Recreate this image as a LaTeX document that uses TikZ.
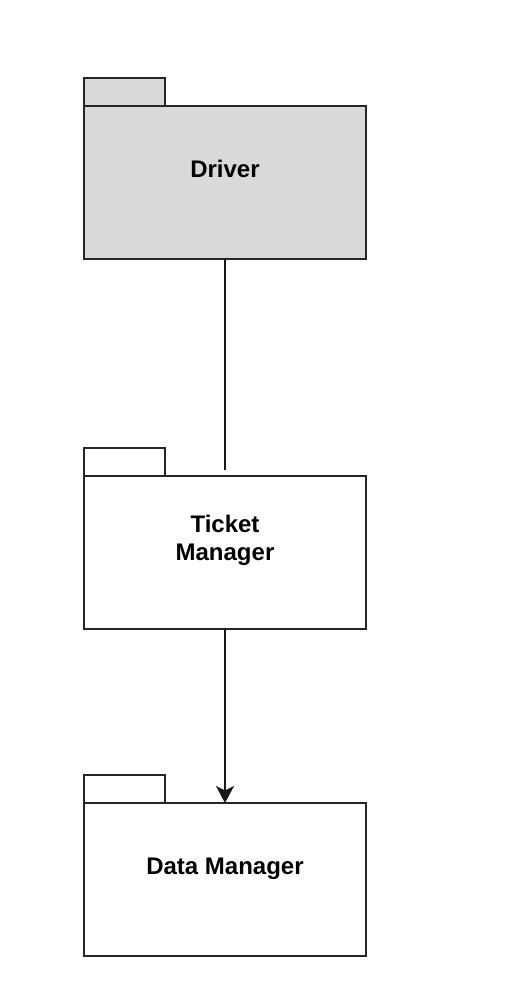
\documentclass[tikz,border=0pt]{standalone}
\usepackage{fontspec}
\setmainfont{Liberation Sans}
\usetikzlibrary{arrows.meta}
\definecolor{pkgfill}{HTML}{D9D9D9}
\tikzset{
  pkgbody/.style={draw=black!85, line width=1.7pt, minimum width=282pt, minimum height=153pt, inner sep=0pt, outer sep=0pt, anchor=north west},
  pkgtab/.style={draw=black!85, line width=1.7pt, minimum width=81pt, minimum height=28pt, inner sep=0pt, outer sep=0pt, anchor=south west},
  pkgtext/.style={font=\fontsize{24pt}{28pt}\selectfont\bfseries, align=center, inner sep=0pt},
  conn/.style={line width=1.7pt, black!90}
}
\begin{document}
\begin{tikzpicture}[x=1pt,y=-1pt]
\useasboundingbox (0,0) rectangle (529,1002);
% Driver
\node[pkgtab, fill=pkgfill] (drivertab) at (84,106) {};
\node[pkgbody, fill=pkgfill] (driver) at (84,106) {};
\node[pkgtext] (drivertext) at (225,169) {Driver};
% Ticket Manager
\node[pkgtab] (tickettab) at (84,476) {};
\node[pkgbody] (ticket) at (84,476) {};
\node[pkgtext] (tickettext) at (225,540) {Ticket\\Manager};
% Data Manager
\node[pkgtab] (datatab) at (84,803) {};
\node[pkgbody] (data) at (84,803) {};
\node[pkgtext] (datatext) at (225,869) {Data Manager};
% connectors
\coordinate (lineend) at (225,470);
\draw[conn] (driver.south) -- (lineend);
\draw[conn, -{Stealth[length=17pt,width=18pt,inset=4.5pt]}] (ticket.south) -- (data.north);
\end{tikzpicture}
\end{document}
